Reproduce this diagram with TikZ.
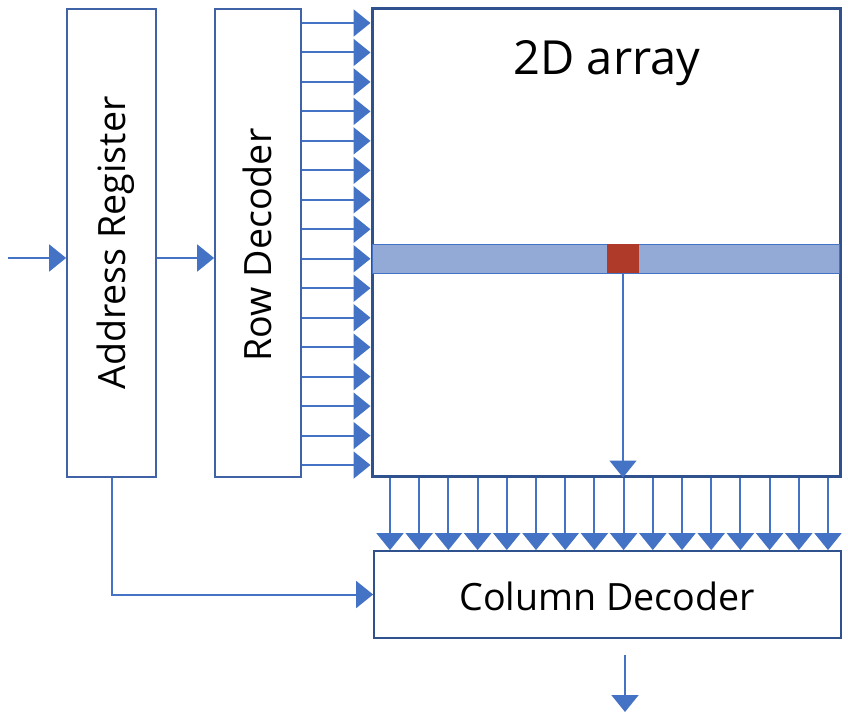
\documentclass[tikz,border=0pt]{standalone}
\usepackage{fontspec}
\setmainfont{Open Sans}
\usetikzlibrary{arrows.meta}
\definecolor{arrblue}{HTML}{4472C4}
\definecolor{boxblue}{HTML}{3F63A6}
\definecolor{darkblue}{HTML}{2F528F}
\definecolor{bandfill}{HTML}{93A9D6}
\definecolor{cellred}{HTML}{B03A2A}
\tikzset{
  blk/.style={draw=boxblue, line width=1.8pt, fill=white, inner sep=0pt},
  arr/.style={draw=arrblue, line width=2pt, -{Triangle[length=17pt,width=27pt]}},
  lbl/.style={font=\fontsize{37.6}{45}\selectfont, text=black, inner sep=0pt},
}
\begin{document}
\begin{tikzpicture}[x=1pt,y=-1pt]
\useasboundingbox (0,0) rectangle (848,722);
% boxes
\node[blk, minimum width=89pt, minimum height=468pt] (addr) at (111.5,243) {};
\node[blk, minimum width=86pt, minimum height=468pt] (rowdec) at (258,243) {};
\node[blk, draw=darkblue, line width=3pt, minimum width=468pt, minimum height=467pt] (array) at (606,242.5) {};
\node[blk, draw=darkblue, minimum width=467pt, minimum height=87pt] (coldec) at (607.5,594.5) {};
% selected row and cell
\node[draw=arrblue, line width=1pt, fill=bandfill, minimum width=467pt, minimum height=29pt, inner sep=0pt] (band) at (606,258.5) {};
\node[draw=none, fill=cellred, minimum width=32pt, minimum height=29pt, inner sep=0pt] (cell) at (623,258.5) {};
% labels
\node[lbl, rotate=90, anchor=base] (addrtxt) at (125,243) {Address Register};
\node[lbl, rotate=90, anchor=base] (rowtxt) at (271,245) {Row Decoder};
\node[lbl, font=\fontsize{47}{56}\selectfont, anchor=base] (arrtxt) at (607,75) {2D array};
\node[lbl, anchor=base] (coltxt) at (607,610) {Column Decoder};
% input and address -> row decoder
\coordinate (in) at (8,258);
\draw[arr] (in) -- (addr.west |- in);
\draw[arr] (addr.east |- in) -- (rowdec.west |- in);
% row lines
\foreach \k in {0,...,15}{
  \coordinate (r\k) at (301,{23+\k*29.47});
  \draw[arr] (rowdec.east |- r\k) -- (array.west |- r\k);
}
% column lines
\foreach \k in {0,...,15}{
  \coordinate (c\k) at ({390+\k*29.2},500);
  \draw[arr] (array.south -| c\k) -- (coldec.north -| c\k);
}
% cell read-out
\draw[arr, line width=1.5pt] (cell.south) -- (array.south -| cell.south);
% address register to column decoder
\draw[arr] (addr.south) |- (coldec.west);
% output
\coordinate (outs) at (625,655);
\coordinate (oute) at (625,712);
\draw[arr] (outs) -- (oute);
\end{tikzpicture}
\end{document}
